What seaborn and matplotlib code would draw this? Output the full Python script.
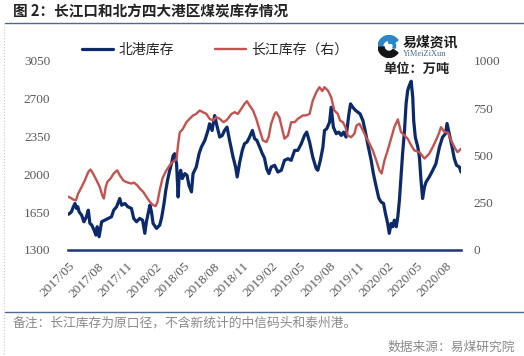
import numpy as np
import pandas as pd
import matplotlib
matplotlib.use("Agg")
import matplotlib.pyplot as plt
import matplotlib.dates as mdates
from matplotlib.lines import Line2D
from matplotlib.patches import Wedge
import seaborn as sns

# ---------------- data ----------------
north_dates = [
    "2017-05-01","2017-05-06","2017-05-11","2017-05-17","2017-05-22","2017-05-27","2017-05-31","2017-06-04","2017-06-12","2017-06-19",
    "2017-06-27","2017-07-03","2017-07-08","2017-07-14","2017-07-21","2017-07-27","2017-07-31","2017-08-06","2017-08-14","2017-08-24",
    "2017-09-03","2017-09-14","2017-09-21","2017-09-30","2017-10-10","2017-10-16","2017-10-26","2017-11-05","2017-11-16","2017-11-23",
    "2017-12-02","2017-12-12","2017-12-21","2017-12-28","2018-01-02","2018-01-13","2018-01-18","2018-01-23","2018-02-03","2018-02-13",
    "2018-02-19","2018-02-26","2018-03-04","2018-03-10","2018-03-16","2018-03-23","2018-03-27","2018-04-01","2018-04-07","2018-04-12",
    "2018-04-15","2018-04-20","2018-04-25","2018-05-03","2018-05-10","2018-05-16","2018-05-24","2018-05-29","2018-06-08","2018-06-17",
    "2018-06-24","2018-07-05","2018-07-15","2018-07-20","2018-07-28","2018-08-05","2018-08-12","2018-08-21","2018-08-29","2018-09-05",
    "2018-09-13","2018-09-21","2018-10-02","2018-10-10","2018-10-15","2018-10-23","2018-10-31","2018-11-07","2018-11-15","2018-11-23",
    "2018-12-02","2018-12-09","2018-12-16","2018-12-25","2019-01-02","2019-01-09","2019-01-16","2019-01-23","2019-01-30","2019-02-10",
    "2019-02-20","2019-03-03","2019-03-13","2019-03-24","2019-04-03","2019-04-14","2019-04-24","2019-05-05","2019-05-15","2019-05-22",
    "2019-05-31","2019-06-10","2019-06-21","2019-06-26","2019-07-04","2019-07-12","2019-07-17","2019-07-24","2019-08-02","2019-08-07",
    "2019-08-14","2019-08-23","2019-08-31","2019-09-08","2019-09-15","2019-09-23","2019-10-02","2019-10-07","2019-10-14","2019-10-23",
    "2019-10-30","2019-11-06","2019-11-15","2019-11-23","2019-11-30","2019-12-11","2019-12-18","2019-12-27","2020-01-04","2020-01-11",
    "2020-01-19","2020-01-25","2020-02-01","2020-02-06","2020-02-12","2020-02-17","2020-02-22","2020-02-28","2020-03-04","2020-03-09",
    "2020-03-14","2020-03-19","2020-03-25","2020-03-30","2020-04-04","2020-04-09","2020-04-15","2020-04-20","2020-04-23","2020-04-28",
    "2020-05-06","2020-05-11","2020-05-16","2020-05-21","2020-05-27","2020-06-01","2020-06-11","2020-06-22","2020-07-02","2020-07-13",
    "2020-07-23","2020-08-01","2020-08-06","2020-08-13","2020-08-22","2020-08-29","2020-09-05","2020-09-14","2020-09-19",
]
north_values = [
    1630,1640,1653,1700,1730,1684,1700,1653,1622,1561,
    1607,1668,1546,1530,1484,1438,1515,1423,1561,1576,
    1592,1607,1668,1699,1776,1714,1730,1699,1684,1592,
    1561,1592,1576,1454,1561,1714,1653,1546,1500,1530,
    1600,1720,1850,1950,2030,2110,2170,2190,2098,1790,
    1975,2037,1960,2006,1991,1899,1837,2006,2067,2191,
    2251,2313,2405,2467,2405,2543,2451,2344,2359,2405,
    2436,2313,2159,2067,1975,2113,2221,2283,2298,2344,
    2405,2329,2313,2251,2191,2150,2050,2006,2067,2083,
    2021,2037,2129,2144,2129,2221,2221,2283,2359,2390,
    2298,2159,2052,2037,2129,2251,2405,2420,2482,2620,
    2436,2375,2390,2359,2390,2344,2559,2651,2620,2590,
    2574,2559,2497,2390,2283,2129,2006,1883,1780,1745,
    1730,1638,1546,1454,1546,1515,1576,1515,1607,1760,
    1975,2191,2405,2651,2774,2820,2860,2712,2497,2344,
    2251,2159,1945,1776,1883,1929,1975,2037,2098,2251,
    2344,2375,2470,2375,2251,2144,2083,2067,2021,
]

yangtze_dates = [
    "2017-05-01","2017-05-09","2017-05-16","2017-05-25","2017-06-01","2017-06-12","2017-06-22","2017-07-03","2017-07-10","2017-07-18",
    "2017-07-29","2017-08-08","2017-08-16","2017-08-21","2017-08-27","2017-09-01","2017-09-11","2017-09-21","2017-10-02","2017-10-10",
    "2017-10-21","2017-10-29","2017-11-05","2017-11-16","2017-11-24","2017-12-04","2017-12-12","2017-12-23","2018-01-02","2018-01-13",
    "2018-01-23","2018-01-31","2018-02-06","2018-02-13","2018-02-22","2018-03-06","2018-03-22","2018-04-07","2018-04-12","2018-04-17",
    "2018-04-27","2018-05-08","2018-05-18","2018-05-29","2018-06-08","2018-06-19","2018-06-29","2018-07-10","2018-07-20","2018-07-31",
    "2018-08-10","2018-08-21","2018-09-02","2018-09-13","2018-09-27","2018-10-07","2018-10-17","2018-10-28","2018-11-07","2018-11-15",
    "2018-11-23","2018-12-04","2018-12-14","2018-12-25","2019-01-04","2019-01-15","2019-01-22","2019-01-30","2019-02-10","2019-02-15",
    "2019-02-25","2019-03-08","2019-03-13","2019-03-24","2019-04-03","2019-04-14","2019-04-24","2019-05-10","2019-05-20","2019-05-31",
    "2019-06-10","2019-06-21","2019-07-01","2019-07-10","2019-07-17","2019-07-28","2019-08-07","2019-08-17","2019-08-28","2019-09-04",
    "2019-09-13","2019-09-21","2019-09-28","2019-10-09","2019-10-19","2019-10-26","2019-11-04","2019-11-15","2019-11-25","2019-12-06",
    "2019-12-16","2019-12-27","2020-01-06","2020-01-13","2020-01-22","2020-02-01","2020-02-12","2020-02-22","2020-03-04","2020-03-14",
    "2020-03-25","2020-04-04","2020-04-15","2020-04-25","2020-05-11","2020-05-27","2020-06-11","2020-06-22","2020-07-02","2020-07-11",
    "2020-07-18","2020-07-29","2020-08-09","2020-08-19","2020-08-29","2020-09-08","2020-09-14","2020-09-19",
]
yangtze_values = [
    281,275,267,262,298,333,368,412,425,404,
    368,333,289,272,333,360,377,404,421,395,
    368,360,356,351,356,342,325,307,281,254,
    237,232,254,316,380,421,460,480,560,620,
    640,675,693,711,719,737,728,719,693,684,
    702,693,675,688,719,728,719,746,772,786,
    763,737,693,632,579,570,596,667,719,728,
    700,623,588,605,675,675,693,711,711,719,
    789,833,860,840,860,842,807,737,719,684,
    675,649,605,596,614,658,667,632,596,561,
    526,474,421,404,474,526,590,649,690,623,
    605,588,553,526,517,483,509,544,579,614,
    649,623,620,579,544,517,526,535,
]

left_ticks = [1300, 1650, 2000, 2350, 2700, 3050]
right_ticks = [0, 250, 500, 750, 1000]
x_tick_dates = ["2017-05-01","2017-08-01","2017-11-01","2018-02-01","2018-05-01","2018-08-01","2018-11-01",
                "2019-02-01","2019-05-01","2019-08-01","2019-11-01","2020-02-01","2020-05-01","2020-08-01"]
x_tick_labels = ["2017/05","2017/08","2017/11","2018/02","2018/05","2018/08","2018/11",
                 "2019/02","2019/05","2019/08","2019/11","2020/02","2020/05","2020/08"]

series_names = ["北港库存", "长江库存（右）"]
title_text = "图 2：长江口和北方四大港区煤炭库存情况"
note_text = "备注：长江库存为原口径，不含新统计的中信码头和泰州港。"
source_text = "数据来源：易煤研究院"
unit_text = "单位：万吨"
logo_cn = "易煤资讯"
logo_en = "YiMeiZiXun"

# ---------------- style ----------------
sns.set_theme(style="white")
plt.rcParams["font.family"] = ["Noto Sans CJK SC", "DejaVu Sans"]
plt.rcParams["axes.unicode_minus"] = False

NAVY = "#0c2a6b"
RED = "#c4524f"
AXIS = "#1d3778"
TICKC = "#595959"
num_font = ["Liberation Serif", "DejaVu Serif"]

df_n = pd.DataFrame({"date": pd.to_datetime(north_dates), "value": north_values})
df_y = pd.DataFrame({"date": pd.to_datetime(yangtze_dates), "value": yangtze_values})

W, H = 524, 356
fig = plt.figure(figsize=(W / 100, H / 100), dpi=100)
fig.patch.set_facecolor("white")

ax_l, ax_r, ax_t, ax_b = 68.3, 461.0, 60.7, 250.0
ax = fig.add_axes([ax_l / W, 1 - ax_b / H, (ax_r - ax_l) / W, (ax_b - ax_t) / H])
ax2 = ax.twinx()

sns.lineplot(data=df_n, x="date", y="value", ax=ax, color=NAVY, linewidth=2.3, legend=False)
sns.lineplot(data=df_y, x="date", y="value", ax=ax2, color=RED, linewidth=1.7, legend=False)

ax.set_xlim(df_n["date"].min(), df_n["date"].max())
ax.set_ylim(left_ticks[0], left_ticks[-1])
ax2.set_ylim(right_ticks[0], right_ticks[-1])

ax.set_xlabel("")
ax.set_ylabel("")
ax2.set_ylabel("")

ax.set_yticks(left_ticks)
ax.set_yticklabels([str(v) for v in left_ticks], fontfamily=num_font, fontsize=9.5, color=TICKC)
ax2.set_yticks(right_ticks)
ax2.set_yticklabels([str(v) for v in right_ticks], fontfamily=num_font, fontsize=9.5, color=TICKC)
ax.tick_params(axis="y", length=0, pad=13)
ax2.tick_params(axis="y", length=0, pad=9)

ax.set_xticks(pd.to_datetime(x_tick_dates))
ax.set_xticklabels(x_tick_labels, rotation=45, ha="right", va="top", rotation_mode="anchor",
                   fontfamily=num_font, fontsize=9.5, color=TICKC)
ax.tick_params(axis="x", direction="out", length=3.5, width=1.3, color=AXIS, pad=4)

for a in (ax, ax2):
    for s in ("top", "left", "right"):
        a.spines[s].set_visible(False)
    a.grid(False)
ax2.spines["bottom"].set_visible(False)
ax.spines["bottom"].set_color(AXIS)
ax.spines["bottom"].set_linewidth(1.8)
ax.patch.set_alpha(0)

# legend
handles = [Line2D([], [], color=NAVY, linewidth=2.3), Line2D([], [], color=RED, linewidth=1.7)]
fig.legend(handles, series_names, loc="center left", bbox_to_anchor=(82 / W, 1 - 50 / H),
           ncol=2, frameon=False, fontsize=10, handlelength=2.2, handletextpad=0.4,
           columnspacing=3.0, borderpad=0, borderaxespad=0)

# frame lines and texts
fig.add_artist(Line2D([5 / W, 1], [1 - 22.7 / H] * 2, color="#4f6a8f", linewidth=1.0))
fig.add_artist(Line2D([5 / W, 1], [1 - 311.7 / H] * 2, color="#4f6a8f", linewidth=1.0))
fig.add_artist(Line2D([4 / W, 4 / W], [1 - 23 / H, 0], color="#c8c8c8", linewidth=0.8, linestyle=":"))

fig.text(13 / W, 1 - 11.5 / H, title_text, fontsize=10.5, fontweight="bold", color="#222222",
         ha="left", va="center")
fig.text(13 / W, 1 - 323 / H, note_text, fontsize=9.2, color="#8a8a8a", ha="left", va="center")
fig.text(515 / W, 1 - 347.5 / H, source_text, fontsize=9.2, color="#8a8a8a", ha="right", va="center")
fig.text(416 / W, 1 - 69 / H, unit_text, fontsize=9.5, fontweight="bold", color="#222222",
         ha="center", va="center")

# logo
lax = fig.add_axes([377.5 / W, 1 - 58 / H, 23 / W, 23 / H])
lax.set_xlim(-1.05, 1.05)
lax.set_ylim(-1.05, 1.05)
lax.set_aspect("equal")
lax.axis("off")
lax.add_patch(Wedge((0, 0), 1.0, 35, 185, width=0.42, color="#2a86c8"))
lax.add_patch(Wedge((0, 0), 1.0, 185, 325, width=0.55, color="#151515"))
lax.add_patch(Wedge((0.15, 0.05), 0.45, 330, 120, width=0.2, color="#2a86c8"))
fig.text(403 / W, 1 - 42.5 / H, logo_cn, fontsize=10, fontweight="bold", color="#1a1a1a",
         ha="left", va="center")
fig.text(403 / W, 1 - 53.5 / H, logo_en, fontsize=6, color="#4a6a8a", ha="left", va="center",
         fontfamily=num_font)

fig.savefig("out.png", dpi=100, facecolor="white")
